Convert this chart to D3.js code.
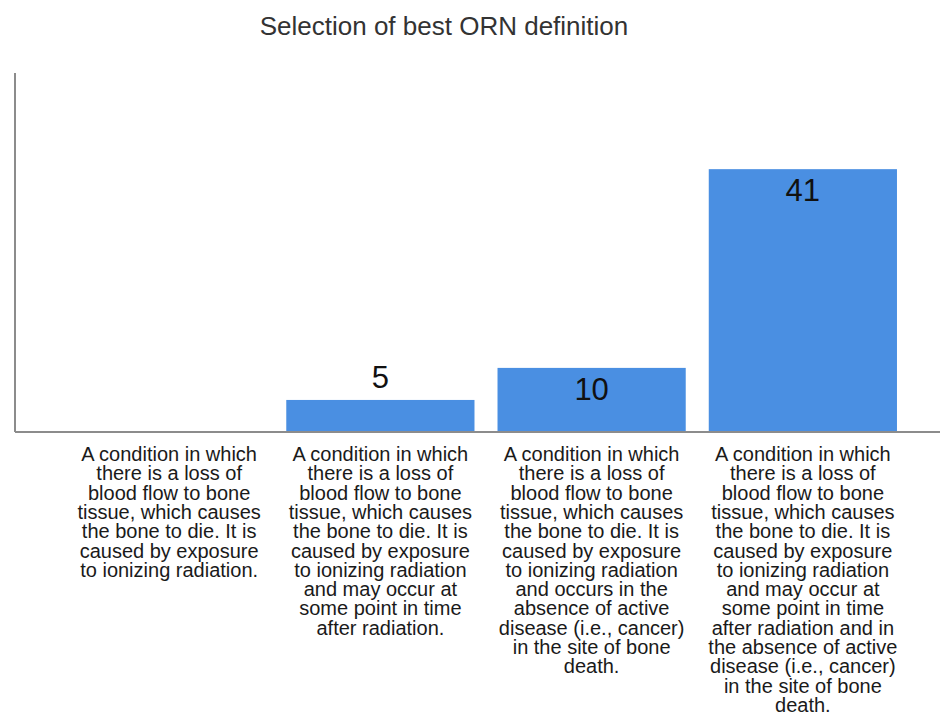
<!doctype html>
<html lang="en">
<head>
  <meta charset="utf-8">
  <title>Selection of best ORN definition</title>
  <style>
    body { margin: 0; background: #fff; }
    .title { font: 26px "Liberation Sans", Arial, sans-serif; fill: #333; }
    .axis-line { stroke: #8c8c8c; stroke-width: 2; shape-rendering: crispEdges; }
    .bar { fill: #4a8fe2; }
    .value { font: 31px "Liberation Sans", Arial, sans-serif; fill: #111; }
    .cat { font: 20px "Liberation Sans", Arial, sans-serif; fill: #1a1a1a; }
  </style>
</head>
<body>
  <div class="chart"></div>
  <script src="https://d3js.org/d3.v7.min.js"></script>
  <script>
    'use strict';

    const titleText = 'Selection of best ORN definition';

    // category labels, already broken into lines as in the original
    const categories = [
      ['A condition in which', 'there is a loss of', 'blood flow to bone', 'tissue, which causes',
       'the bone to die. It is', 'caused by exposure', 'to ionizing radiation.'],
      ['A condition in which', 'there is a loss of', 'blood flow to bone', 'tissue, which causes',
       'the bone to die. It is', 'caused by exposure', 'to ionizing radiation', 'and may occur at',
       'some point in time', 'after radiation.'],
      ['A condition in which', 'there is a loss of', 'blood flow to bone', 'tissue, which causes',
       'the bone to die. It is', 'caused by exposure', 'to ionizing radiation', 'and occurs in the',
       'absence of active', 'disease (i.e., cancer)', 'in the site of bone', 'death.'],
      ['A condition in which', 'there is a loss of', 'blood flow to bone', 'tissue, which causes',
       'the bone to die. It is', 'caused by exposure', 'to ionizing radiation', 'and may occur at',
       'some point in time', 'after radiation and in', 'the absence of active',
       'disease (i.e., cancer)', 'in the site of bone', 'death.']
    ];
    const values = [0, 5, 10, 41];

    const width = 940;
    const height = 719;
    const axisX = 15;
    const baseY = 432;
    const topY = 73;
    const lineH = 19.3;

    const data = categories.map((lines, i) => ({ id: i, lines: lines, value: values[i] }));

    const x = d3.scaleBand()
      .domain(data.map(d => d.id))
      .range([52, 920])
      .paddingInner(0.109)
      .paddingOuter(0.109);

    const y = d3.scaleLinear()
      .domain([0, 56])
      .range([baseY, topY]);

    const svg = d3.select('.chart').append('svg')
      .attr('width', width)
      .attr('height', height);

    svg.append('text')
      .attr('class', 'title')
      .attr('x', 444)
      .attr('y', 35)
      .attr('text-anchor', 'middle')
      .text(titleText);

    // bars
    svg.selectAll('.bar')
      .data(data.filter(d => d.value > 0))
      .enter().append('rect')
      .attr('class', 'bar')
      .attr('x', d => x(d.id))
      .attr('y', d => y(d.value))
      .attr('width', x.bandwidth())
      .attr('height', d => y(0) - y(d.value));

    // value labels: inside the bar when there is room, otherwise above it
    svg.selectAll('.value')
      .data(data.filter(d => d.value > 0))
      .enter().append('text')
      .attr('class', 'value')
      .attr('text-anchor', 'middle')
      .attr('x', d => x(d.id) + x.bandwidth() / 2)
      .attr('y', d => (y(0) - y(d.value) > 45) ? y(d.value) + 32 : y(d.value) - 12)
      .text(d => d.value);

    // axes
    svg.append('line')
      .attr('class', 'axis-line')
      .attr('x1', axisX).attr('x2', axisX)
      .attr('y1', topY).attr('y2', baseY);

    svg.append('line')
      .attr('class', 'axis-line')
      .attr('x1', axisX).attr('x2', width)
      .attr('y1', baseY).attr('y2', baseY);

    // category labels
    const cats = svg.selectAll('.cat')
      .data(data)
      .enter().append('text')
      .attr('class', 'cat')
      .attr('text-anchor', 'middle')
      .attr('transform', d => `translate(${x(d.id) + x.bandwidth() / 2},461)`);

    cats.selectAll('tspan')
      .data(d => d.lines)
      .enter().append('tspan')
      .attr('x', 0)
      .attr('y', (d, i) => i * lineH)
      .text(d => d);
  </script>
</body>
</html>
